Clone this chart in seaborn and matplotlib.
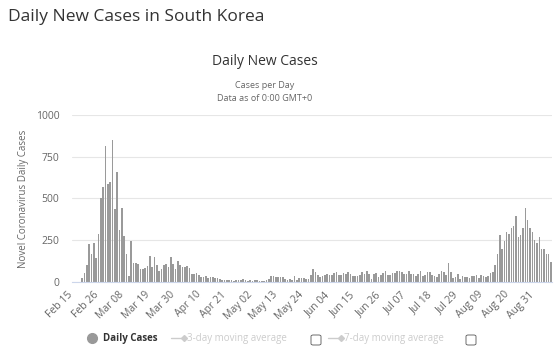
import numpy as np
import pandas as pd
import matplotlib
matplotlib.use("Agg")
import matplotlib.pyplot as plt
import seaborn as sns
from matplotlib.lines import Line2D
from matplotlib.patches import FancyBboxPatch

# daily new cases (Feb 15 - Sep 7, 2020)
feb = [0, 1, 1, 1, 20, 53, 100, 229, 169, 231, 144, 284, 505, 571, 813]
mar = [586, 599, 851, 435, 660, 310, 445, 272, 165, 35, 242, 114, 110, 107, 76, 74,
       84, 93, 152, 87, 147, 98, 64, 76, 100, 104, 91, 146, 105, 78, 125]
apr = [101, 89, 86, 94, 81, 47, 47, 53, 39, 27, 30, 32, 25, 27, 27, 22, 22, 18, 8,
       13, 9, 11, 8, 6, 10, 10, 10, 14, 9, 4]
may = [9, 6, 13, 8, 3, 2, 4, 12, 18, 34, 35, 27, 26, 29, 27, 19, 13, 15, 13, 32,
       12, 20, 23, 25, 16, 19, 40, 79, 58, 39, 27]
jun = [35, 38, 49, 39, 39, 51, 57, 38, 38, 50, 45, 56, 48, 34, 37, 34, 43, 59, 49,
       67, 48, 17, 46, 51, 28, 39, 51, 62, 42, 43]
jul = [50, 54, 63, 63, 61, 46, 44, 63, 49, 45, 35, 44, 62, 33, 39, 61, 60, 39, 34,
       26, 45, 63, 59, 41, 113, 58, 25, 28, 48, 18, 36]
aug = [31, 30, 23, 34, 33, 43, 20, 43, 36, 28, 34, 54, 56, 103, 166, 279, 197, 246,
       297, 288, 324, 332, 397, 266, 280, 320, 441, 371, 323, 299, 248]
sep = [235, 267, 195, 198, 168, 167, 119]

cases = feb + mar + apr + may + jun + jul + aug + sep
dates = pd.date_range("2020-02-15", periods=len(cases), freq="D")
labels = dates.strftime("%b %d")
yticks = [0, 250, 500, 750, 1000]

df = pd.DataFrame({"date": labels, "cases": cases})

sns.set_style("white")
plt.rcParams["font.family"] = ["Open Sans", "DejaVu Sans"]

fig = plt.figure(figsize=(5.59, 3.52), dpi=100)
ax = fig.add_axes([0.1284, 0.1997, 0.8594, 0.4736])

sns.barplot(data=df, x="date", y="cases", color="#9a9a9a", saturation=1,
            width=0.68, linewidth=0, ax=ax)

ax.set_xlim(-0.5, len(cases) - 0.5)
ax.set_ylim(0, 1000)
ax.set_yticks(yticks)
ax.set_yticklabels([str(v) for v in yticks], fontsize=7.5, color="#666666")
ax.grid(axis="y", color="#e6e6e6", linewidth=0.8)
ax.set_axisbelow(True)
for s in ["top", "right", "left"]:
    ax.spines[s].set_visible(False)
ax.spines["bottom"].set_color("#ccd6eb")
ax.spines["bottom"].set_linewidth(0.8)

tick_pos = list(range(0, len(cases), 11))
ax.set_xticks(tick_pos)
ax.set_xticklabels([labels[i] for i in tick_pos], rotation=45, ha="right",
                   va="baseline", rotation_mode="anchor", fontsize=7.5,
                   color="#666666")
ax.tick_params(axis="x", length=0, pad=9.5)
ax.tick_params(axis="y", length=0, pad=9)
ax.set_xlabel("")
ax.set_ylabel("Novel Coronavirus Daily Cases", fontsize=7, color="#666666", labelpad=5)

fig.text(0.014, 0.952, "Daily New Cases in South Korea", fontsize=12.5,
         color="#333333", va="center", ha="left")
fig.text(0.474, 0.824, "Daily New Cases", fontsize=10, color="#333333",
         ha="center", va="center")
fig.text(0.474, 0.758, "Cases per Day", fontsize=6.5, color="#666666",
         ha="center", va="center")
fig.text(0.474, 0.721, "Data as of 0:00 GMT+0", fontsize=6.5, color="#666666",
         ha="center", va="center")

# legend row
ly = 1 - 338 / 352
fig.add_artist(Line2D([92 / 559], [ly], marker="o", markersize=7, color="#999999",
                      transform=fig.transFigure))
fig.text(103 / 559, ly, "Daily Cases", fontsize=7, fontweight="bold",
         color="#333333", va="center")
for x0, txt, bx in [(171, "3-day moving average", 311), (328, "7-day moving average", 466)]:
    fig.add_artist(Line2D([x0 / 559, (x0 + 13) / 559], [ly, ly], color="#cccccc",
                          lw=1, marker="D", markersize=3, markevery=[1],
                          transform=fig.transFigure))
    fig.text((x0 + 16) / 559, ly, txt, fontsize=7, color="#cccccc", va="center")
    fig.add_artist(FancyBboxPatch((bx / 559, 1 - 345 / 352), 10 / 559, 10 / 352,
                                  boxstyle="round,pad=0,rounding_size=0.004",
                                  transform=fig.transFigure, facecolor="white",
                                  edgecolor="#555555", lw=0.6))

fig.savefig("out.png", dpi=100)
